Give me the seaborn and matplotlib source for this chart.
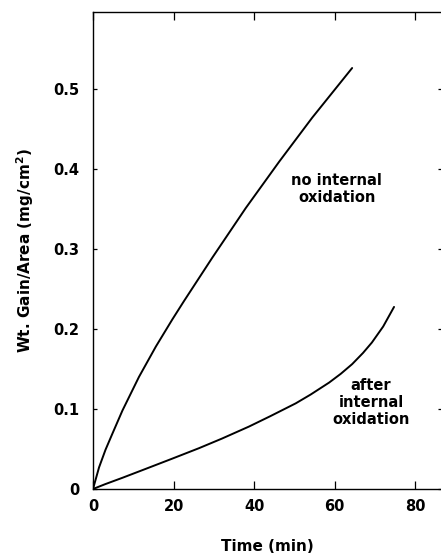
import matplotlib
matplotlib.use("Agg")
import matplotlib.pyplot as plt
import seaborn as sns
import pandas as pd

# Data
t_no_int = [0, 1.5, 3.1, 4.8, 7.3, 11.4, 15.6, 19.7, 22.6, 29.6, 37.9, 46.2, 54.4, 64.3]
w_no_int = [0, 0.027, 0.049, 0.069, 0.098, 0.140, 0.178, 0.212, 0.235, 0.289, 0.351, 0.409, 0.464, 0.526]

t_after = [0, 3, 7.3, 13, 19.7, 26.3, 32, 38.7, 44, 50.3, 54, 58.6, 61.5, 64.3, 67, 69.2, 72, 74.7]
w_after = [0, 0.006, 0.014, 0.025, 0.038, 0.051, 0.063, 0.078, 0.091, 0.107, 0.118, 0.133, 0.144, 0.156, 0.170, 0.183, 0.203, 0.2275]

x_ticks = [0, 20, 40, 60, 80]
x_ticklabels = ["0", "20", "40", "60", "80"]
y_ticks = [0, 0.1, 0.2, 0.3, 0.4, 0.5]
y_ticklabels = ["0", "0.1", "0.2", "0.3", "0.4", "0.5"]

sns.set_theme(style="ticks")
plt.rcParams["font.family"] = ["DejaVu Sans"]
plt.rcParams["font.weight"] = "bold"
plt.rcParams["text.color"] = "black"
plt.rcParams["axes.labelcolor"] = "black"

df = pd.concat([
    pd.DataFrame({"Time": t_no_int, "Gain": w_no_int, "series": "no internal oxidation"}),
    pd.DataFrame({"Time": t_after, "Gain": w_after, "series": "after internal oxidation"}),
])

fig = plt.figure(figsize=(4.41, 5.58), dpi=100)
ax = fig.add_axes([93 / 441, 69 / 558, 349 / 441, 477 / 558])

sns.lineplot(data=df, x="Time", y="Gain", units="series", estimator=None,
             color="black", linewidth=1.4, sort=False, ax=ax, legend=False)

ax.set_xlim(0, 86.6)
ax.set_ylim(0, 0.596)
ax.set_xticks(x_ticks)
ax.set_xticklabels(x_ticklabels)
ax.set_yticks(y_ticks)
ax.set_yticklabels(y_ticklabels)

ax.tick_params(axis="both", direction="in", top=True, right=True,
               labelsize=10.5, width=0.9, color="black", labelcolor="black")
ax.tick_params(axis="x", length=6, pad=7)
ax.tick_params(axis="y", length=3, pad=10)
for lab in ax.get_xticklabels() + ax.get_yticklabels():
    lab.set_fontweight("bold")

for s in ax.spines.values():
    s.set_color("black")
    s.set_linewidth(1.0)

ax.set_xlabel("Time (min)", fontsize=11, fontweight="bold", labelpad=18, color="black")
ax.set_ylabel("Wt. Gain/Area (mg/cm$^\\mathbf{2}$)", fontsize=11, fontweight="bold",
              labelpad=12, color="black")

ax.text(60.5, 0.375, "no internal\noxidation", ha="center", va="center",
        fontsize=10.5, fontweight="bold", linespacing=1.15, color="black")
ax.text(69, 0.108, "after\ninternal\noxidation", ha="center", va="center",
        fontsize=10.5, fontweight="bold", linespacing=1.15, color="black")

fig.savefig("out.png", dpi=100)
